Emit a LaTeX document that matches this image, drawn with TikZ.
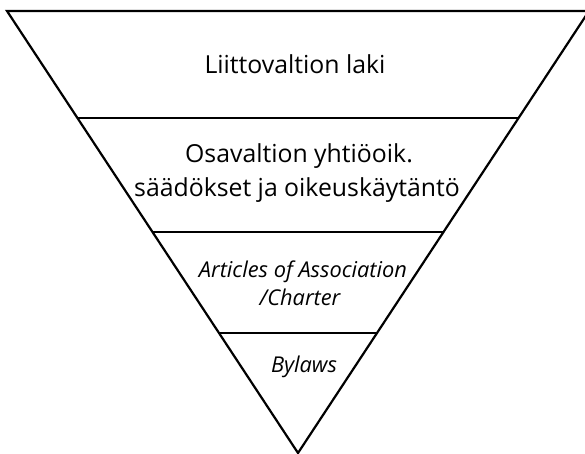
\documentclass[tikz,border=0pt]{standalone}
\usepackage{fontspec}
\setmainfont{Open Sans}[Ligatures=NoCommon]
\begin{document}
\begin{tikzpicture}[x=1pt,y=-1pt,
  edge/.style={draw=black,line width=2.2pt,line join=miter},
  lvl/.style={anchor=base,inner sep=0pt,font=\fontsize{24.8}{34}\selectfont},
  small/.style={anchor=base,inner sep=0pt,font=\fontsize{21.8}{28}\selectfont\itshape}]
\useasboundingbox (0,0) rectangle (585,453);
\coordinate (TL) at (7,11);
\coordinate (TR) at (589,11);
\coordinate (TRe) at (590,11);
\coordinate (B) at (298,453);
\coordinate (L1) at (77.4,118); \coordinate (R1) at (518.6,118);
\coordinate (L2) at (152.5,232); \coordinate (R2) at (443.5,232);
\coordinate (L3) at (219,333); \coordinate (R3) at (377,333);
\draw[edge] (TRe) -- (TL) -- (B) -- (TR);
\draw[edge] (L1) -- (R1);
\draw[edge] (L2) -- (R2);
\draw[edge] (L3) -- (R3);
\node[lvl] (t1) at (295,73) {Liittovaltion laki};
\node[lvl] (t2a) at (299,162) {Osavaltion yhtiöoik.};
\node[lvl] (t2b) at (297,196) {säädökset ja oikeuskäytäntö};
\node[small] (t3a) at (303,277) {Articles of Association};
\node[small] (t3b) at (300,305) {/Charter};
\node[small] (t4) at (304,372) {Bylaws};
\end{tikzpicture}
\end{document}
